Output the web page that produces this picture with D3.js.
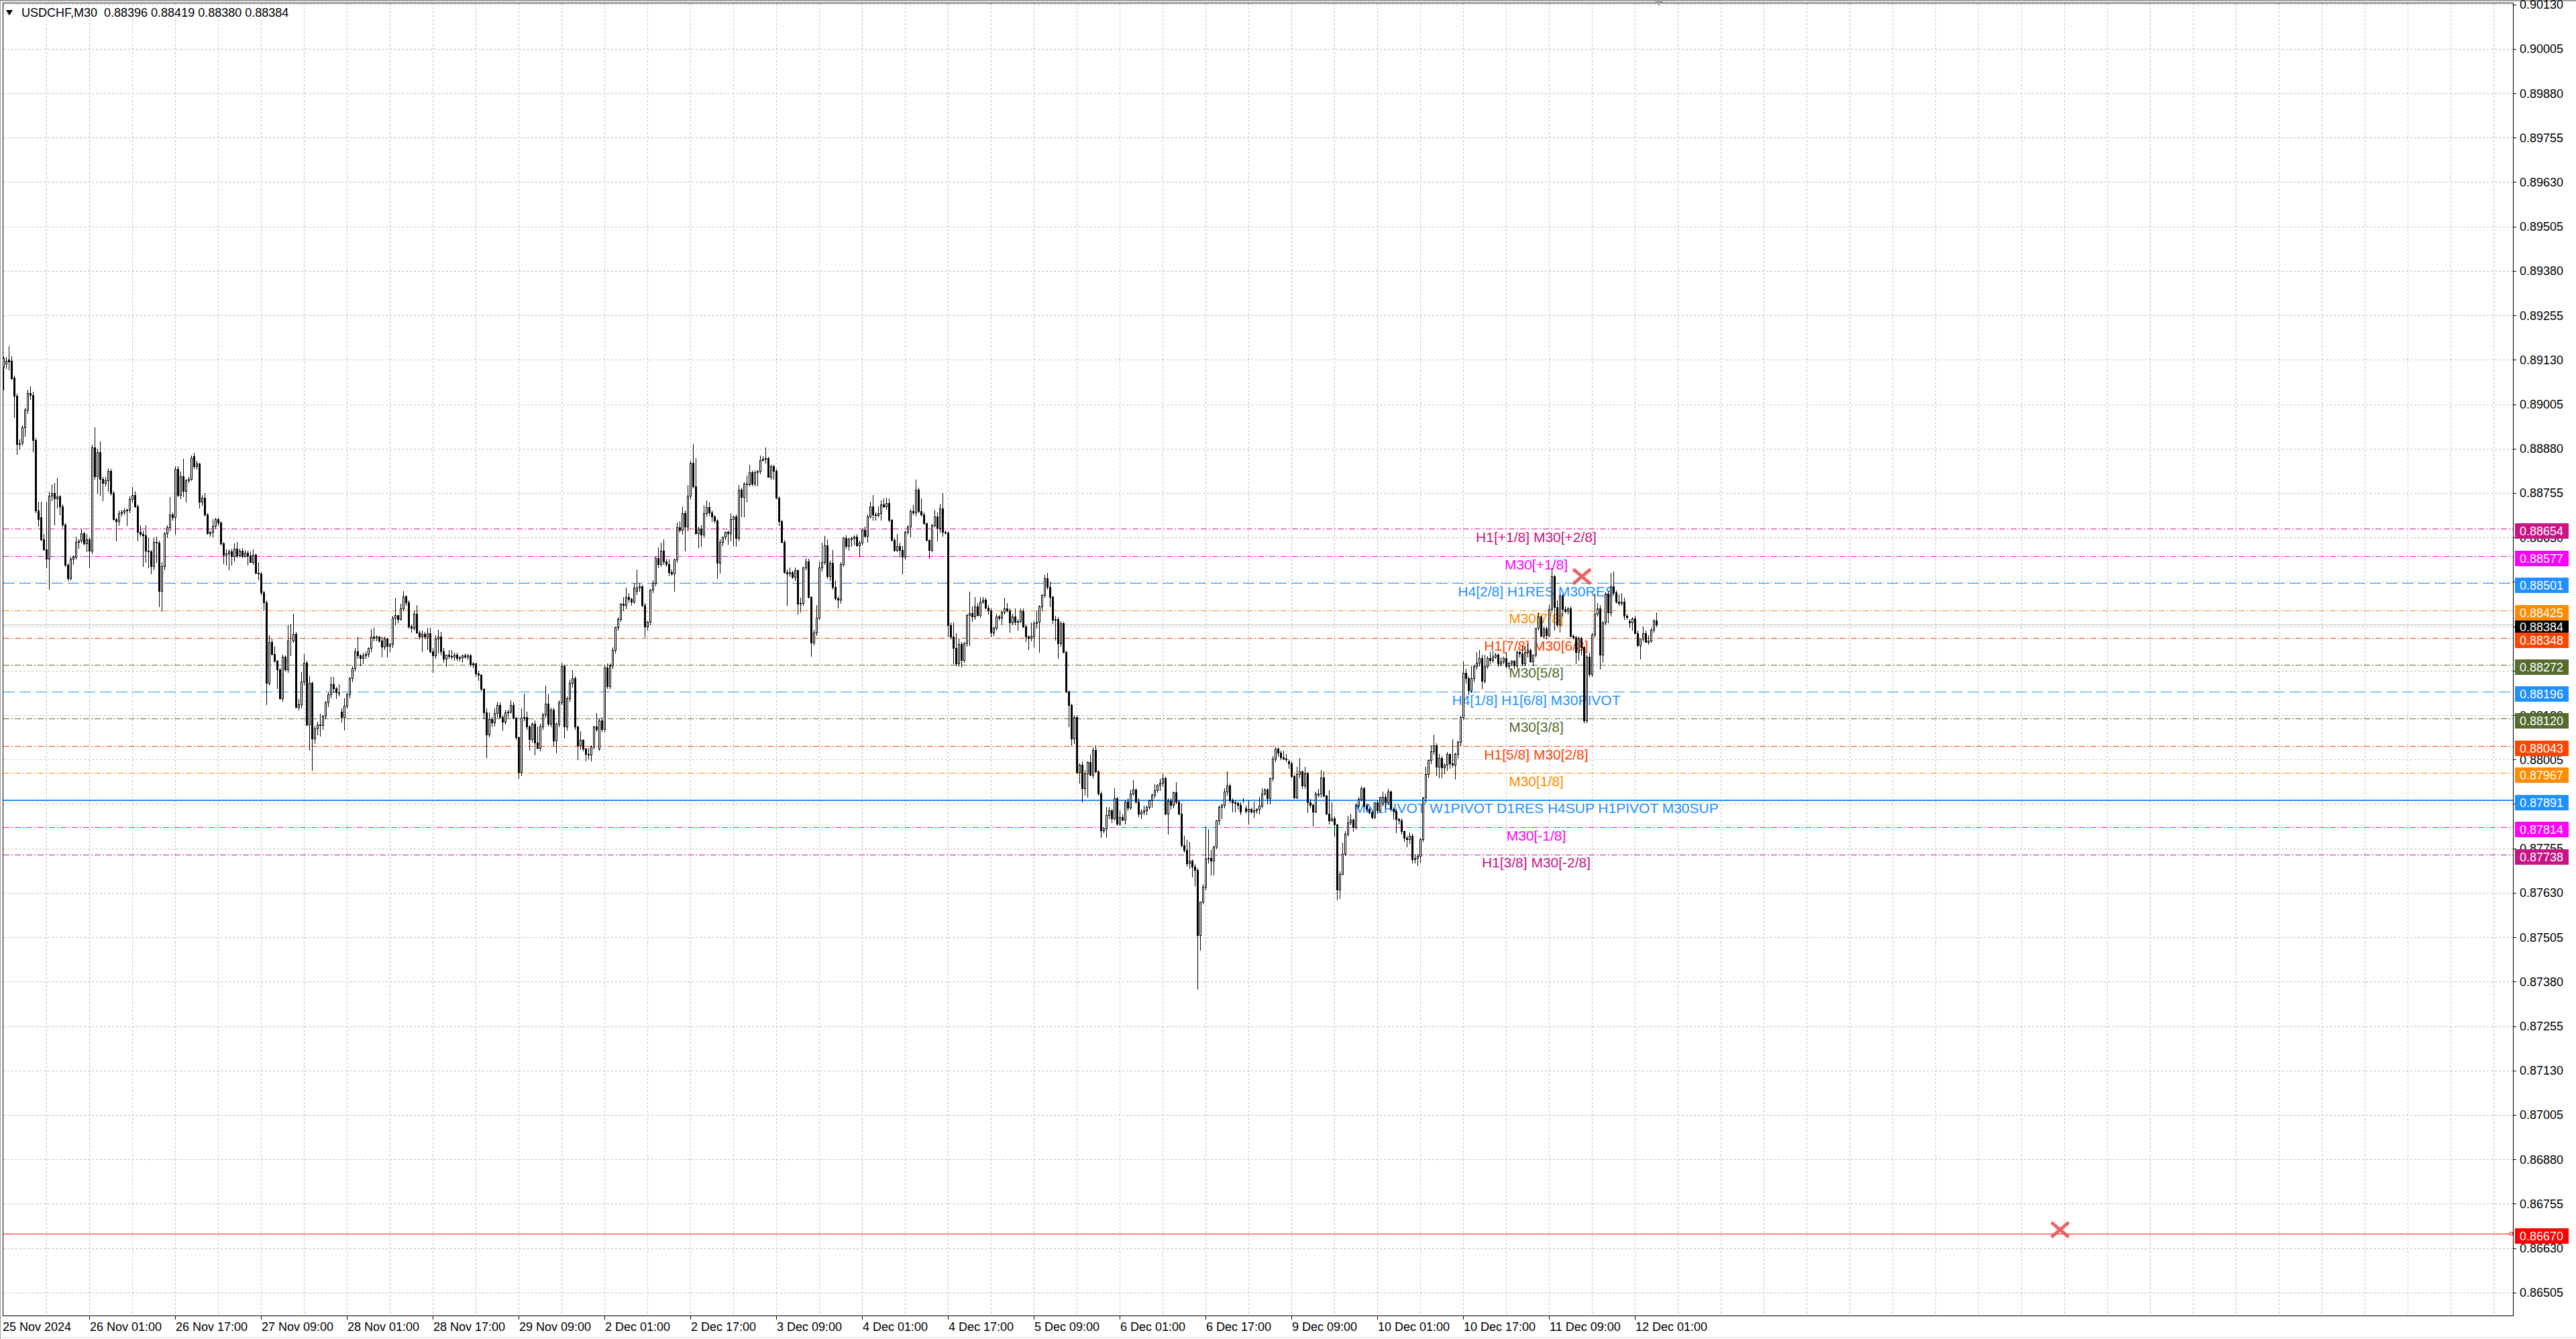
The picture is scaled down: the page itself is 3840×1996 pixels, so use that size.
<!DOCTYPE html>
<html>
<head>
<meta charset="utf-8">
<script src="https://cdn.jsdelivr.net/npm/d3@7"></script>
<style>
body { margin: 0; background: #ffffff; }
svg { display: block; }
</style>
</head>
<body>
<script>
// USDCHF M30 bars, [open, high, low, close] in points (1 point = 0.00001)
var nov25 = [
[89110,89138,89045,89134],[89120,89139,89106,89127],[89130,89168,89102,89125],[89126,89140,89075,89078],
[89080,89085,88969,89029],[89029,89035,88864,88892],[88892,88905,88880,88895],[88896,88945,88890,88940],
[88940,88995,88915,88989],[88989,89045,88980,89037],[89037,89055,89020,89030],[89030,89040,88872,88904],
[88904,88910,88700,88706],[88706,88730,88662,88682],[88686,88730,88620,88625],[88625,88640,88595,88597],
[88597,88730,88545,88570],[88570,88759,88484,88747],[88747,88779,88735,88755],[88755,88783,88666,88740],
[88740,88799,88714,88745],[88745,88750,88694,88718],[88718,88722,88660,88666],[88666,88670,88550,88553],
[88553,88556,88510,88516],[88516,88575,88512,88569],[88569,88580,88555,88576],[88576,88633,88570,88617],
[88617,88625,88601,88621],[88621,88654,88615,88641]
];
var nov26 = [
[88641,88645,88610,88613],[88613,88640,88590,88625],[88625,88630,88545,88593],[88593,88890,88585,88884],
[88884,88940,88795,88803],[88803,88880,88755,88870],[88870,88900,88750,88795],[88795,88800,88735,88783],
[88783,88800,88775,88791],[88791,88825,88760,88818],[88818,88822,88750,88755],[88755,88760,88680,88682],
[88682,88685,88621,88676],[88676,88705,88665,88698],[88698,88708,88690,88702],[88702,88712,88695,88706],
[88706,88712,88665,88708],[88708,88745,88700,88738],[88738,88771,88730,88750],[88750,88760,88715,88718],
[88718,88722,88621,88646],[88646,88665,88635,88640],[88640,88650,88549,88636],[88636,88665,88560,88593],
[88593,88630,88545,88590],[88590,88595,88528,88549],[88549,88630,88540,88617],[88617,88633,88560,88615],
[88615,88620,88435,88480],[88480,88560,88423,88549],[88549,88645,88540,88641],[88641,88665,88630,88658],
[88658,88743,88650,88694],[88694,88700,88680,88686],[88686,88830,88640,88823],[88823,88831,88745,88750],
[88750,88815,88740,88803],[88803,88852,88745,88760],[88760,88795,88730,88790],[88790,88800,88785,88795],
[88795,88860,88790,88855],[88858,88868,88825,88830],[88830,88845,88822,88838],[88838,88840,88714,88730],
[88730,88750,88720,88742],[88742,88755,88690,88694],[88694,88698,88640,88642],[88642,88650,88635,88645]
];
var nov27 = [
[88645,88682,88633,88662],[88662,88685,88655,88682],[88682,88685,88665,88672],[88672,88676,88610,88613],
[88613,88618,88557,88581],[88581,88597,88553,88585],[88585,88597,88540,88590],[88590,88599,88553,88577],
[88577,88613,88565,88598],[88598,88617,88574,88580],[88580,88598,88576,88592],[88592,88601,88574,88578],
[88578,88594,88575,88587],[88587,88592,88553,88580],[88580,88590,88560,88561],[88561,88597,88555,88582],
[88582,88585,88528,88530],[88530,88560,88512,88528],[88528,88532,88470,88476],[88476,88480,88427,88448],
[88448,88452,88161,88221],[88221,88355,88215,88335],[88335,88345,88300,88302],[88302,88322,88280,88282],
[88282,88285,88205,88258],[88258,88262,88175,88177],[88177,88300,88170,88294],[88294,88298,88255,88258],
[88258,88383,88250,88339],[88339,88387,88298,88340],[88340,88415,88335,88359],[88359,88365,88150,88153],
[88153,88175,88145,88160],[88160,88250,88150,88225],[88225,88302,88215,88278],[88278,88282,88100,88104],
[88104,88240,88032,88221],[88221,88225,87975,88064],[88064,88100,88050,88092],[88092,88112,88075,88104],
[88104,88133,88072,88102],[88102,88130,88090,88128],[88128,88170,88120,88165],[88165,88195,88155,88189],
[88189,88237,88180,88217],[88217,88237,88195,88205],[88205,88210,88177,88195],[88195,88217,88185,88192]
];
var nov28 = [
[88140,88148,88112,88125],[88125,88177,88088,88157],[88157,88192,88150,88189],[88189,88237,88180,88233],
[88233,88268,88225,88262],[88262,88318,88255,88310],[88310,88351,88290,88298],[88298,88302,88270,88290],
[88290,88305,88275,88298],[88298,88310,88290,88302],[88302,88320,88295,88318],[88318,88371,88310,88351],
[88351,88375,88340,88347],[88347,88355,88340,88350],[88350,88352,88335,88340],[88340,88350,88294,88322],
[88322,88350,88315,88345],[88345,88348,88294,88325],[88325,88333,88310,88330],[88330,88410,88320,88403],
[88403,88460,88385,88411],[88411,88412,88390,88400],[88400,88443,88398,88431],[88431,88480,88425,88464],
[88464,88468,88440,88448],[88448,88452,88375,88379],[88379,88385,88365,88375],[88375,88425,88370,88415],
[88415,88440,88360,88363],[88363,88368,88345,88351],[88351,88367,88310,88359],[88359,88365,88345,88351],
[88351,88375,88315,88360],[88360,88375,88305,88310],[88310,88318,88251,88298],[88298,88355,88290,88345],
[88345,88370,88305,88350],[88350,88365,88300,88310],[88310,88318,88280,88288],[88288,88300,88268,88300],
[88300,88313,88290,88297],[88297,88313,88288,88294],[88294,88305,88285,88300],[88300,88305,88285,88290],
[88290,88297,88282,88292],[88292,88300,88280,88298],[88298,88303,88290,88295],[88295,88302,88287,88298]
];
var nov29 = [
[88298,88302,88268,88274],[88274,88280,88265,88275],[88275,88278,88240,88248],[88248,88255,88228,88243],
[88243,88245,88200,88204],[88204,88206,88121,88138],[88138,88148,88012,88075],[88075,88138,88070,88118],
[88118,88125,88098,88110],[88110,88148,88100,88135],[88135,88168,88125,88158],[88158,88165,88120,88125],
[88125,88130,88088,88112],[88112,88145,88105,88138],[88138,88145,88125,88140],[88140,88171,88135,88158],
[88158,88165,88120,88122],[88122,88125,88062,88068],[88068,88070,87952,87969],[87969,88148,87960,88122],
[88122,88190,88115,88125],[88125,88140,88090,88098],[88098,88102,88032,88062],[88062,88110,88055,88105],
[88105,88115,88018,88052],[88052,88098,88035,88038],[88038,88105,88030,88098],[88098,88135,88090,88131],
[88131,88214,88125,88162],[88162,88188,88100,88105],[88105,88150,88098,88145],[88145,88150,88045,88058],
[88058,88110,88025,88105],[88105,88171,88098,88165],[88165,88277,88160,88267],[88267,88272,88065,88098],
[88098,88182,88088,88178],[88178,88230,88170,88221],[88221,88257,88210,88234],[88234,88240,88090,88098],
[88098,88100,88005,88045],[88045,88085,88035,88060],[88060,88062,88030,88035],[88035,88038,88002,88020],
[88020,88038,88008,88018],[88018,88045,88002,88042],[88042,88100,88035,88098],[88098,88135,88085,88091]
];
var dec02 = [
[88035,88120,88032,88115],[88115,88125,88085,88091],[88091,88270,88085,88264],[88264,88275,88205,88211],
[88211,88275,88205,88270],[88270,88320,88262,88314],[88314,88380,88305,88377],[88377,88405,88370,88400],
[88400,88445,88395,88443],[88443,88463,88425,88440],[88440,88489,88430,88463],[88463,88473,88450,88457],
[88457,88460,88440,88450],[88450,88502,88445,88489],[88480,88539,88470,88489],[88489,88502,88480,88492],
[88492,88496,88435,88440],[88440,88445,88350,88380],[88380,88395,88370,88393],[88393,88485,88385,88483],
[88483,88510,88475,88502],[88502,88575,88495,88572],[88572,88602,88545,88555],[88555,88615,88550,88592],
[88592,88625,88555,88562],[88562,88570,88550,88555],[88555,88568,88522,88532],[88532,88540,88525,88528],
[88528,88570,88480,88568],[88568,88671,88560,88658],[88658,88675,88645,88652],[88652,88718,88640,88698],
[88698,88705,88592,88660],[88660,88778,88650,88748],[88748,88845,88740,88840],[88840,88893,88770,88774],
[88774,88854,88640,88642],[88642,88660,88602,88655],[88655,88665,88605,88638],[88638,88721,88630,88698],
[88698,88735,88690,88715],[88715,88728,88692,88700],[88700,88705,88675,88688],[88688,88692,88672,88678],
[88678,88682,88516,88559],[88559,88625,88530,88618],[88618,88632,88608,88632],[88632,88648,88625,88645]
];
var dec03 = [
[88645,88650,88612,88642],[88642,88698,88620,88681],[88681,88690,88608,88688],[88688,88695,88605,88628],
[88628,88778,88620,88764],[88764,88770,88688,88744],[88744,88785,88688,88781],[88781,88804,88731,88780],
[88780,88834,88775,88814],[88814,88820,88775,88781],[88781,88820,88775,88814],[88814,88820,88775,88817],
[88817,88860,88810,88847],[88847,88858,88845,88852],[88852,88884,88840,88854],[88854,88856,88800,88801],
[88801,88835,88795,88830],[88830,88834,88794,88817],[88817,88822,88740,88741],[88741,88745,88665,88675],
[88675,88680,88615,88618],[88618,88622,88530,88532],[88532,88540,88440,88528],[88528,88545,88520,88532],
[88532,88535,88515,88518],[88518,88545,88510,88537],[88537,88540,88416,88443],[88443,88460,88420,88445],
[88445,88548,88440,88545],[88545,88572,88540,88562],[88562,88570,88460,88463],[88463,88465,88297,88334],
[88334,88370,88328,88363],[88363,88440,88355,88403],[88403,88562,88400,88545],[88545,88615,88535,88560],
[88560,88635,88555,88608],[88608,88625,88515,88520],[88520,88565,88510,88558],[88558,88595,88485,88490],
[88490,88510,88455,88458],[88458,88465,88433,88455],[88455,88560,88445,88555],[88555,88632,88550,88628],
[88628,88636,88600,88605],[88605,88630,88595,88625],[88625,88632,88605,88628],[88628,88636,88610,88632]
];
var dec04 = [
[88632,88640,88605,88608],[88608,88620,88575,88615],[88615,88655,88610,88652],[88652,88660,88630,88635],
[88635,88695,88618,88689],[88689,88731,88685,88717],[88717,88750,88680,88695],[88695,88700,88680,88692],
[88692,88717,88688,88698],[88698,88735,88680,88722],[88722,88740,88715,88718],[88718,88742,88710,88726],
[88726,88740,88675,88679],[88679,88682,88620,88623],[88623,88628,88590,88595],[88595,88640,88590,88605],
[88605,88615,88575,88595],[88595,88605,88529,88576],[88576,88650,88570,88646],[88646,88665,88640,88660],
[88660,88710,88632,88703],[88703,88720,88695,88700],[88700,88792,88690,88764],[88764,88770,88700,88703],
[88703,88740,88690,88695],[88695,88700,88668,88670],[88670,88672,88620,88623],[88623,88625,88571,88595],
[88595,88668,88590,88665],[88665,88708,88660,88689],[88689,88700,88620,88656],[88656,88725,88645,88712],
[88712,88754,88635,88646],[88646,88650,88640,88643],[88643,88646,88351,88383],[88383,88390,88345,88351],
[88351,88390,88276,88318],[88318,88360,88270,88276],[88276,88345,88268,88330],[88330,88335,88266,88285],
[88285,88335,88280,88332],[88332,88415,88325,88412],[88412,88478,88327,88417],[88417,88435,88395,88408],
[88408,88463,88400,88435],[88435,88445,88410,88412],[88412,88463,88405,88450],[88450,88463,88445,88455]
];
var dec05 = [
[88455,88460,88430,88432],[88432,88440,88415,88425],[88425,88430,88351,88362],[88362,88380,88355,88375],
[88375,88415,88370,88407],[88407,88412,88398,88403],[88403,88425,88385,88420],[88420,88460,88415,88430],
[88430,88445,88420,88425],[88425,88430,88365,88390],[88390,88415,88385,88407],[88407,88430,88385,88392],
[88392,88400,88370,88395],[88395,88430,88390,88422],[88422,88430,88378,88380],[88380,88385,88338,88351],
[88351,88355,88315,88348],[88348,88390,88340,88353],[88353,88395,88322,88388],[88388,88425,88375,88393],
[88393,88440,88308,88435],[88435,88470,88425,88468],[88468,88525,88462,88515],[88515,88530,88485,88491],
[88491,88505,88435,88463],[88463,88467,88389,88398],[88398,88410,88342,88400],[88400,88405,88290,88332],
[88332,88395,88325,88388],[88388,88392,88305,88308],[88308,88312,88195,88196],[88196,88200,88097,88158],
[88158,88162,88045,88064],[88064,88130,88050,88125],[88125,88130,87965,87969],[87969,87995,87940,87990],
[87990,88000,87887,87924],[87924,87975,87905,87966],[87966,88000,87900,87998],[87998,88018,87960,87962],
[87962,88040,87955,88032],[88032,88045,87970,87972],[87972,87975,87905,87910],[87910,87915,87787,87806],
[87806,87815,87800,87811],[87811,87872,87787,87849],[87849,87872,87840,87862],[87862,87865,87828,87840]
];
var dec06 = [
[87840,87925,87835,87895],[87895,87900,87820,87825],[87825,87862,87820,87843],[87843,87850,87833,87836],
[87836,87890,87825,87886],[87886,87895,87862,87870],[87870,87920,87865,87910],[87910,87947,87905,87920],
[87920,87925,87883,87887],[87887,87895,87845,87853],[87853,87865,87840,87858],[87858,87876,87850,87862],
[87862,87875,87850,87872],[87872,87892,87865,87890],[87890,87910,87872,87905],[87905,87935,87898,87918],
[87918,87935,87912,87933],[87933,87950,87918,87940],[87940,87966,87930,87952],[87952,87956,87850,87853],
[87853,87895,87796,87888],[87888,87895,87865,87877],[87877,87915,87870,87912],[87912,87942,87880,87887],
[87887,87890,87850,87853],[87853,87880,87760,87764],[87764,87790,87745,87750],[87750,87778,87705,87712],
[87712,87773,87700,87720],[87720,87725,87675,87703],[87703,87710,87651,87694],[87694,87700,87360,87511],
[87511,87605,87470,87605],[87605,87655,87600,87647],[87647,87816,87640,87726],[87726,87810,87715,87728],
[87728,87750,87680,87720],[87720,87762,87680,87760],[87760,87835,87755,87834],[87834,87875,87823,87872],
[87872,87880,87840,87877],[87877,87925,87870,87914],[87914,87971,87905,87932],[87932,87937,87885,87891],
[87891,87895,87858,87885],[87885,87890,87858,87882],[87882,87886,87865,87878],[87878,87885,87850,87858]
];
var dec09 = [
[87890,87895,87885,87891],[87868,87875,87855,87860],[87860,87890,87825,87866],[87866,87870,87855,87858],
[87858,87886,87843,87862],[87862,87868,87855,87865],[87865,87900,87852,87876],[87876,87925,87870,87910],
[87910,87925,87905,87920],[87920,87925,87880,87895],[87895,87955,87880,87952],[87952,88015,87945,88008],
[88008,88040,88000,88036],[88036,88040,88015,88025],[88025,88030,88005,88012],[88012,88030,88005,88008],
[88008,88020,88000,88005],[88000,88005,87980,87995],[87995,88000,87955,87958],[87958,87962,87895,87897],
[87897,87985,87895,87963],[87963,88010,87955,87972],[87972,87975,87925,87932],[87932,87985,87925,87966],
[87966,87970,87856,87884],[87884,87894,87870,87878],[87878,87880,87818,87859],[87859,87915,87856,87910],
[87906,87922,87900,87910],[87910,87975,87900,87954],[87954,87972,87900,87903],[87903,87905,87850,87853],
[87853,87918,87825,87834],[87834,87884,87832,87840],[87840,87845,87790,87822],[87822,87825,87610,87640],
[87640,87690,87615,87683],[87683,87771,87680,87740],[87740,87803,87735,87796],[87796,87847,87790,87828],
[87828,87853,87822,87835],[87835,87840,87803,87815],[87815,87880,87810,87875],[87875,87900,87870,87894],
[87894,87930,87888,87925],[87925,87928,87872,87875],[87875,87880,87860,87865],[87865,87870,87852,87857]
];
var dec10 = [
[87857,87860,87840,87844],[87844,87885,87840,87884],[87884,87890,87855,87862],[87862,87900,87858,87900],
[87880,87915,87875,87900],[87900,87910,87870,87885],[87885,87922,87880,87915],[87915,87918,87860,87866],
[87866,87870,87837,87860],[87860,87865,87800,87838],[87838,87842,87825,87834],[87834,87840,87796,87803],
[87803,87805,87775,87784],[87784,87790,87760,87780],[87780,87800,87770,87790],[87790,87795,87715,87724],
[87724,87740,87715,87727],[87727,87740,87708,87733],[87733,87785,87715,87780],[87780,87900,87775,87897],
[87897,87985,87885,87963],[87963,88005,87955,88004],[88004,88045,87995,88028],[88028,88076,88020,88045],
[88045,88050,87960,87985],[87985,88020,87954,88010],[88010,88015,87955,87982],[87982,87995,87965,87990],
[87990,88026,87975,88020],[88020,88023,87980,87995],[87995,88063,87985,87990],[87990,88025,87950,88020],
[88020,88058,88010,88055],[88055,88128,88045,88125],[88125,88281,88118,88249],[88249,88260,88220,88233],
[88233,88240,88188,88200],[88200,88268,88195,88233],[88233,88272,88225,88268],[88268,88307,88260,88278],
[88278,88313,88270,88291],[88291,88300,88205,88227],[88227,88300,88220,88268],[88268,88297,88262,88291],
[88291,88307,88275,88285],[88285,88310,88280,88295],[88295,88305,88290,88300],[88300,88303,88268,88275]
];
var dec11 = [
[88275,88292,88270,88281],[88281,88295,88275,88291],[88291,88307,88265,88268],[88268,88280,88260,88278],
[88278,88285,88270,88283],[88283,88285,88260,88270],[88270,88313,88265,88307],[88307,88312,88295,88303],
[88303,88325,88270,88275],[88275,88325,88270,88307],[88307,88332,88295,88313],[88313,88316,88280,88281],
[88281,88300,88270,88300],[88300,88375,88295,88375],[88375,88418,88370,88408],[88408,88412,88350,88352],
[88352,88380,88348,88373],[88373,88380,88345,88355],[88355,88440,88350,88428],[88428,88543,88420,88520],
[88520,88525,88370,88434],[88434,88452,88380,88384],[88384,88470,88365,88466],[88466,88470,88410,88428],
[88428,88435,88418,88422],[88422,88434,88415,88431],[88431,88435,88350,88352],[88352,88356,88345,88349],
[88349,88352,88275,88307],[88307,88350,88284,88345],[88345,88350,88300,88320],[88320,88325,88110,88115],
[88115,88300,88110,88294],[88294,88305,88240,88245],[88245,88360,88240,88357],[88357,88472,88350,88415],
[88415,88445,88410,88431],[88431,88440,88260,88300],[88300,88395,88280,88390],[88390,88475,88385,88472],
[88472,88480,88390,88418],[88418,88530,88410,88492],[88492,88534,88470,88475],[88475,88482,88445,88450],
[88450,88470,88440,88445],[88445,88473,88440,88450],[88450,88460,88400,88409],[88409,88415,88400,88405]
];
var dec12 = [
[88395,88400,88377,88390],[88390,88405,88370,88402],[88402,88410,88360,88361],[88361,88368,88325,88326],
[88326,88345,88288,88345],[88345,88380,88340,88361],[88361,88368,88335,88335],[88335,88355,88330,88340],
[88340,88375,88335,88370],[88370,88400,88365,88396],[88396,88419,88380,88384]
];

// time axis labels, one every 32 bars
var timeLabels = ["25 Nov 2024", "26 Nov 01:00", "26 Nov 17:00", "27 Nov 09:00", "28 Nov 01:00",
    "28 Nov 17:00", "29 Nov 09:00", "2 Dec 01:00", "2 Dec 17:00", "3 Dec 09:00", "4 Dec 01:00",
    "4 Dec 17:00", "5 Dec 09:00", "6 Dec 01:00", "6 Dec 17:00", "9 Dec 09:00", "10 Dec 01:00",
    "10 Dec 17:00", "11 Dec 09:00", "12 Dec 01:00"];

// price axis ticks
var priceTicks = [0.86505, 0.86630, 0.86755, 0.86880, 0.87005, 0.87130, 0.87255, 0.87380, 0.87505,
    0.87630, 0.87755, 0.87880, 0.88005, 0.88130, 0.88255, 0.88380, 0.88505, 0.88630, 0.88755,
    0.88880, 0.89005, 0.89130, 0.89255, 0.89380, 0.89505, 0.89630, 0.89755, 0.89880, 0.90005, 0.90130];

// Murrey / pivot levels
var levelPrices = [0.88654, 0.88577, 0.88501, 0.88425, 0.88348, 0.88272, 0.88196, 0.88120, 0.88043, 0.87967, 0.87891, 0.87814, 0.87738];
var levelNames = ["H1[+1/8] M30[+2/8]", "M30[+1/8]", "H4[2/8] H1RES M30RES", "M30[7/8]", "H1[7/8] M30[6/8]",
    "M30[5/8]", "H4[1/8] H1[6/8] M30PIVOT", "M30[3/8]", "H1[5/8] M30[2/8]", "M30[1/8]",
    "MN1PIVOT W1PIVOT D1RES H4SUP H1PIVOT M30SUP", "M30[-1/8]", "H1[3/8] M30[-2/8]"];
var levelColors = ["#C71585", "#FF00FF", "#1E90FF", "#FF8C00", "#FF4500", "#556B2F", "#1E90FF",
    "#556B2F", "#FF4500", "#FF8C00", "#1E90FF", "#FF00FF", "#C71585"];
var levelStyles = ["dashdot", "dashdot", "dash", "dashdot", "dashdot", "dashdot", "dash",
    "dashdot", "dashdot", "dashdot", "solid", "dashdot", "dashdot"];

var lastPrice = 0.88384;
var legendText = "USDCHF,M30  0.88396 0.88419 0.88380 0.88384";
var redLinePrice = 0.86670;
var crossBars = [588.3, 766.5];
var crossPrices = [0.88520, 0.86682];

var bars = [].concat(nov25, nov26, nov27, nov28, nov29, dec02, dec03, dec04, dec05, dec06, dec09, dec10, dec11, dec12)
    .map(function(d, i) {
        return { i: i, o: d[0] / 1e5, h: d[1] / 1e5, l: d[2] / 1e5, c: d[3] / 1e5 };
    });

var W = 3840, H = 1996;
var plot = { left: 4.5, top: 4.5, right: 3746.5, bottom: 1961.5 };
var fontFam = "'Liberation Sans', Arial, sans-serif";

var x = d3.scaleLinear().domain([0, 616]).range([4.9, 2468.9]);
var y = d3.scaleLinear().domain([0.86505, 0.90005]).range([1926.8, 72.8]);

var svg = d3.select("body")
    .append("svg")
    .attr("width", W)
    .attr("height", H)
    .style("background-color", "#ffffff");

// outer gray borders
svg.append("rect").attr("x", 0).attr("y", 0).attr("width", W).attr("height", 2).attr("fill", "#a0a0a0");
svg.append("rect").attr("x", 0).attr("y", 0).attr("width", 1).attr("height", H).attr("fill", "#a0a0a0");
svg.append("rect").attr("x", 0).attr("y", 1993).attr("width", W).attr("height", 1).attr("fill", "#d8d8d8");

var clip = svg.append("clipPath").attr("id", "plotclip")
    .append("rect")
    .attr("x", plot.left).attr("y", plot.top)
    .attr("width", plot.right - plot.left).attr("height", plot.bottom - plot.top);

var grid = svg.append("g").attr("shape-rendering", "crispEdges");

// horizontal grid
grid.selectAll(".hgrid")
    .data(priceTicks.filter(function(p) { return y(p) > plot.top + 2; }))
    .enter().append("line")
    .attr("x1", plot.left).attr("x2", plot.right)
    .attr("y1", function(p) { return Math.round(y(p)) + 0.5; })
    .attr("y2", function(p) { return Math.round(y(p)) + 0.5; })
    .attr("stroke", "#c0c0c0").attr("stroke-dasharray", "3,3");

// vertical grid every 16 bars
var vIdx = d3.range(16, 930, 16).filter(function(i) { return x(i) < plot.right - 2; });
grid.selectAll(".vgrid")
    .data(vIdx)
    .enter().append("line")
    .attr("x1", function(i) { return Math.round(x(i)) + 0.5; })
    .attr("x2", function(i) { return Math.round(x(i)) + 0.5; })
    .attr("y1", plot.top).attr("y2", plot.bottom)
    .attr("stroke", "#c0c0c0").attr("stroke-dasharray", "3,3");

var levels = levelPrices.map(function(p, k) {
    return { p: p, name: levelNames[k], color: levelColors[k], style: levelStyles[k] };
});

var lv = svg.append("g").attr("clip-path", "url(#plotclip)");

// current price line
lv.append("line")
    .attr("x1", plot.left).attr("x2", plot.right)
    .attr("y1", Math.round(y(lastPrice)) + 0.5).attr("y2", Math.round(y(lastPrice)) + 0.5)
    .attr("stroke", "#c0c0c0").attr("shape-rendering", "crispEdges");

// red line
lv.append("line")
    .attr("x1", plot.left).attr("x2", plot.right)
    .attr("y1", Math.round(y(redLinePrice)) + 0.5).attr("y2", Math.round(y(redLinePrice)) + 0.5)
    .attr("stroke", "#ff0000").attr("shape-rendering", "crispEdges");

lv.selectAll(".lvl")
    .data(levels)
    .enter().append("line")
    .attr("x1", plot.left).attr("x2", plot.right)
    .attr("y1", function(d) { return Math.round(y(d.p)) + (d.style == "solid" ? 0 : 0.5); })
    .attr("y2", function(d) { return Math.round(y(d.p)) + (d.style == "solid" ? 0 : 0.5); })
    .attr("stroke", function(d) { return d.color; })
    .attr("stroke-width", function(d) { return d.style == "solid" ? 2 : 1; })
    .attr("stroke-dasharray", function(d) {
        if (d.style == "dash") return "17,7";
        if (d.style == "dashdot") return "9,3,2,3";
        return null;
    })
    .attr("shape-rendering", "crispEdges");

// level names
lv.selectAll(".lvlname")
    .data(levels)
    .enter().append("text")
    .attr("x", 2290)
    .attr("y", function(d) { return y(d.p) + 19.5; })
    .attr("text-anchor", "middle")
    .style("font-family", fontFam)
    .style("font-size", "21px")
    .style("fill", function(d) { return d.color; })
    .text(function(d) { return d.name; });

// candles
var cg = svg.append("g").attr("shape-rendering", "crispEdges");
var candle = cg.selectAll(".bar")
    .data(bars)
    .enter().append("g");

candle.append("line")
    .attr("x1", function(d) { return Math.round(x(d.i)) + 0.5; })
    .attr("x2", function(d) { return Math.round(x(d.i)) + 0.5; })
    .attr("y1", function(d) { return Math.round(y(d.h)); })
    .attr("y2", function(d) { return Math.round(y(d.l)) + 1; })
    .attr("stroke", "#000000");

candle.append("rect")
    .attr("x", function(d) { return Math.round(x(d.i)) - 1 + 0.5 - 0.5; })
    .attr("y", function(d) { return Math.round(y(Math.max(d.o, d.c))) + 0.5; })
    .attr("width", 2)
    .attr("height", function(d) { return Math.max(0, Math.round(y(Math.min(d.o, d.c))) - Math.round(y(Math.max(d.o, d.c)))); })
    .attr("transform", "translate(0.5,0)")
    .attr("fill", function(d) { return d.c >= d.o ? "#ffffff" : "#000000"; })
    .attr("stroke", "#000000");

// red crosses
var crosses = crossBars.map(function(b, k) { return { b: b, p: crossPrices[k] }; });
var cross = svg.append("g").selectAll(".cross")
    .data(crosses)
    .enter().append("g")
    .attr("transform", function(d) { return "translate(" + x(d.b) + "," + y(d.p) + ")"; });
cross.append("path")
    .attr("d", "M-13,-11L13,11M13,-11L-13,11")
    .attr("stroke", "#e84a4a")
    .attr("stroke-opacity", 0.85)
    .attr("stroke-width", 5);

// small marker at red line end
svg.append("rect")
    .attr("x", plot.right - 5).attr("y", Math.round(y(redLinePrice)) - 2)
    .attr("width", 4).attr("height", 4)
    .attr("fill", "#ffffff").attr("stroke", "#ff0000").attr("stroke-width", 1);

// frame
svg.append("rect")
    .attr("x", plot.left).attr("y", plot.top)
    .attr("width", plot.right - plot.left).attr("height", plot.bottom - plot.top)
    .attr("fill", "none").attr("stroke", "#000000")
    .attr("shape-rendering", "crispEdges");

// chart shift marker
svg.append("path")
    .attr("d", "M2466,1L2480,1L2473,8Z")
    .attr("fill", "#a0a0a0");

// price axis
var yax = svg.append("g");
yax.selectAll(".ytick")
    .data(priceTicks)
    .enter().append("line")
    .attr("x1", plot.right).attr("x2", plot.right + 4)
    .attr("y1", function(p) { return Math.round(y(p)) + 0.5; })
    .attr("y2", function(p) { return Math.round(y(p)) + 0.5; })
    .attr("stroke", "#000000").attr("shape-rendering", "crispEdges");

yax.selectAll(".ylabel")
    .data(priceTicks)
    .enter().append("text")
    .attr("x", 3756)
    .attr("y", function(p) { return y(p) + 6.5; })
    .style("font-family", fontFam)
    .style("font-size", "18px")
    .style("fill", "#000000")
    .text(function(p) { return p.toFixed(5); });

// price boxes on the right
var boxes = [{ p: lastPrice, color: "#000000" }]
    .concat(levels.map(function(d) { return { p: d.p, color: d.color }; }))
    .concat([{ p: redLinePrice, color: "#ff0000" }]);

var box = yax.selectAll(".pbox")
    .data(boxes)
    .enter().append("g");
box.append("rect")
    .attr("x", 3749).attr("y", function(d) { return Math.round(y(d.p)) - 8; })
    .attr("width", 80).attr("height", 23)
    .attr("fill", function(d) { return d.color; });
box.append("text")
    .attr("x", 3756)
    .attr("y", function(d) { return Math.round(y(d.p)) + 10; })
    .style("font-family", fontFam)
    .style("font-size", "18px")
    .style("fill", "#ffffff")
    .text(function(d) { return d.p.toFixed(5); });

// time axis
var xax = svg.append("g");
xax.selectAll(".xtick")
    .data(timeLabels)
    .enter().append("line")
    .attr("x1", function(t, k) { return Math.round(x(k * 32)) + 0.5; })
    .attr("x2", function(t, k) { return Math.round(x(k * 32)) + 0.5; })
    .attr("y1", plot.bottom).attr("y2", plot.bottom + 5)
    .attr("stroke", function(t, k) { return k == 0 ? "none" : "#000000"; })
    .attr("shape-rendering", "crispEdges");

xax.selectAll(".xlabel")
    .data(timeLabels)
    .enter().append("text")
    .attr("x", function(t, k) { return k == 0 ? 4 : Math.round(x(k * 32)) + 1; })
    .attr("y", 1984)
    .style("font-family", fontFam)
    .style("font-size", "18px")
    .style("fill", "#000000")
    .text(function(t) { return t; });

// legend
svg.append("path")
    .attr("d", "M9,15L19,15L14,23Z")
    .attr("fill", "#000000");
svg.append("text")
    .attr("x", 32)
    .attr("y", 25)
    .attr("xml:space", "preserve")
    .style("white-space", "pre")
    .style("font-family", fontFam)
    .style("font-size", "18px")
    .style("fill", "#000000")
    .text(legendText);
</script>
</body>
</html>
